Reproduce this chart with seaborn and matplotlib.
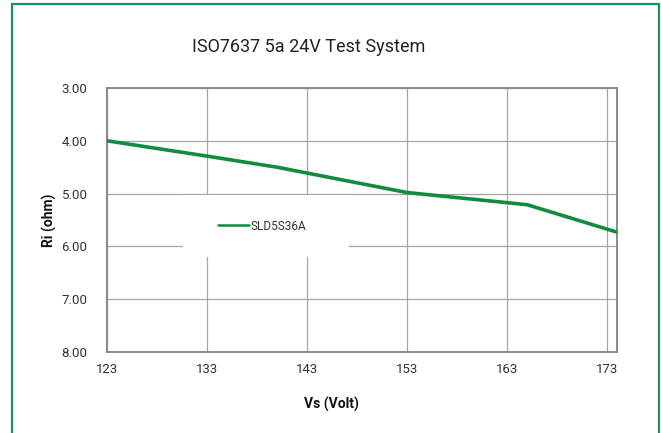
import matplotlib
matplotlib.use("Agg")
import matplotlib.pyplot as plt
from matplotlib.patches import Rectangle
import pandas as pd
import seaborn as sns

# Data ---------------------------------------------------------------
vs_volt = [123, 133, 140, 153, 165, 174]
ri_ohm = [4.00, 4.29, 4.50, 4.98, 5.21, 5.73]
series_name = "SLD5S36A"
x_ticks = [123, 133, 143, 153, 163, 173]
y_ticks = [3.00, 4.00, 5.00, 6.00, 7.00, 8.00]

df = pd.DataFrame({"vs": vs_volt, "ri": ri_ohm, "series": series_name})

# Style --------------------------------------------------------------
c_line = "#0f8c3f"
c_frame = "#16935a"
c_grid = "#a6a6a6"
c_spine = "#8a8a8a"

sns.set_style("white")
plt.rcParams["font.family"] = ["Roboto", "DejaVu Sans"]

fig = plt.figure(figsize=(6.61, 4.33), dpi=100)
ax = fig.add_axes([107 / 661, 1 - 352 / 433, 510 / 661, 264 / 433])

sns.lineplot(data=df, x="vs", y="ri", hue="series", palette=[c_line],
             linewidth=2.6, ax=ax, zorder=3)

ax.set_xlim(123, 174)
ax.set_ylim(8.0, 3.0)
ax.set_xticks(x_ticks)
ax.set_yticks(y_ticks)
ax.set_yticklabels([f"{v:.2f}" for v in y_ticks])
ax.grid(True, color=c_grid, linewidth=0.9)
ax.tick_params(length=0, labelsize=9.5, labelcolor="#333333")
ax.tick_params(axis="y", pad=14)
ax.tick_params(axis="x", pad=8)
for s in ax.spines.values():
    s.set_color(c_spine)
    s.set_linewidth(1.4)

ax.set_xlabel("Vs (Volt)", fontsize=10, fontweight="bold", color="#111111")
ax.set_ylabel("Ri (ohm)", fontsize=10, fontweight="bold", color="#111111")
ax.xaxis.set_label_coords((331 - 107) / 510, -(397 - 352) / 264)
ax.yaxis.set_label_coords((57 - 107) / 510, 0.5)

# white box behind the legend, covers the grid
ax.add_patch(Rectangle(((183 - 107) / 510, 1 - (257 - 88) / 264),
                       166 / 510, 62 / 264, transform=ax.transAxes,
                       facecolor="white", edgecolor="none", zorder=2))
leg = ax.legend(loc="center", bbox_to_anchor=((262 - 107) / 510, 1 - (226 - 88) / 264),
                frameon=False, fontsize=8.5, handlelength=2.6, handletextpad=0.1)
for t in leg.get_texts():
    t.set_color("#333333")
for h in leg.get_lines():
    h.set_linewidth(1.8)

fig.text(309 / 661, 1 - 47 / 433, "ISO7637 5a 24V Test System",
         ha="center", va="center", fontsize=13, color="#222222")

# green outer frame
fig.patches.append(Rectangle((12 / 661, -0.05), 647 / 661, 1.05 - 4 / 433,
                             transform=fig.transFigure, fill=False,
                             edgecolor=c_frame, linewidth=1.6))

fig.savefig("out.png", dpi=100)
